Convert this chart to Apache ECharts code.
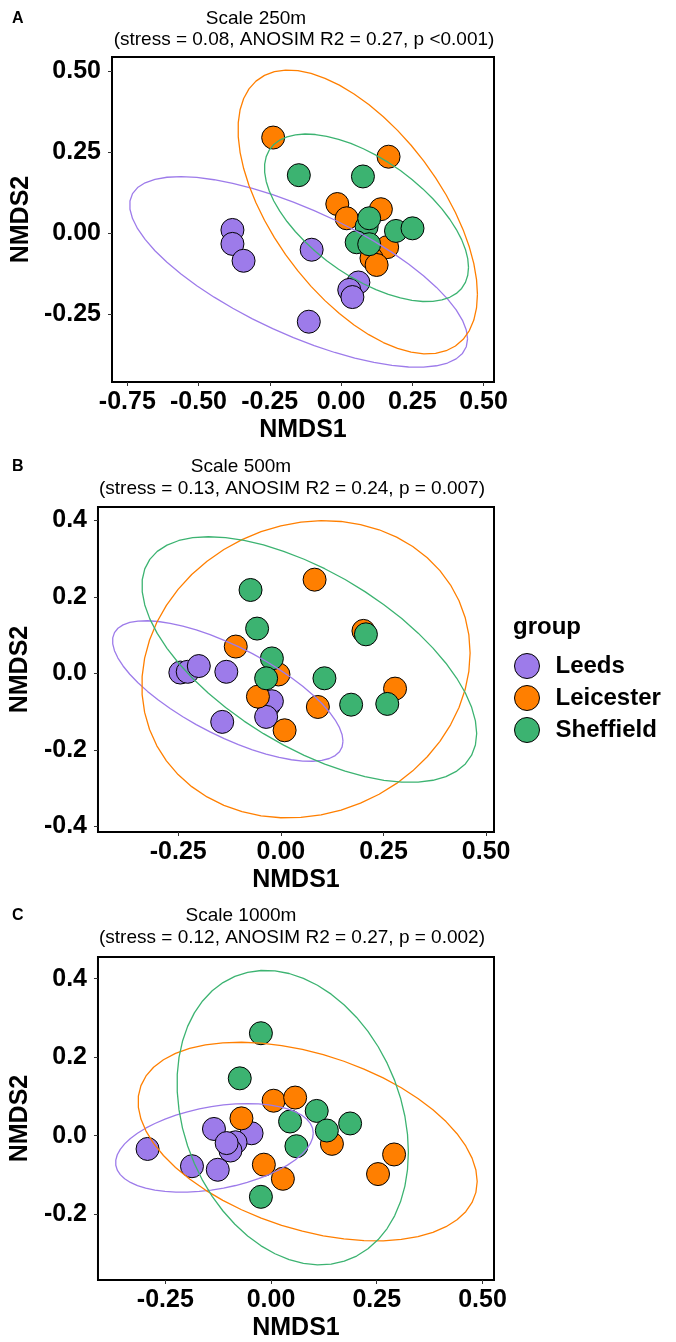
<!DOCTYPE html>
<html>
<head>
<meta charset="utf-8">
<script src="https://cdn.jsdelivr.net/npm/echarts@6/dist/echarts.min.js"></script>
<style>
html,body{margin:0;padding:0;background:#fff;}
#chart{width:676px;height:1342px;}
</style>
</head>
<body>
<div id="chart"></div>
<script>
// ---------- data ----------
const groups = ['Leeds', 'Leicester', 'Sheffield'];
const groupColors = ['#9d7bea', '#ff7f00', '#3cb371'];

const panelLetters = ['A', 'B', 'C'];
const panelTitles = ['Scale 250m', 'Scale 500m', 'Scale 1000m'];
const panelSubtitles = [
  '(stress = 0.08, ANOSIM R2 = 0.27, p <0.001)',
  '(stress = 0.13, ANOSIM R2 = 0.24, p = 0.007)',
  '(stress = 0.12, ANOSIM R2 = 0.27, p = 0.002)'
];

// Panel A (250 m)
const leeds250 = [[-0.381,0.010],[-0.381,-0.033],[-0.342,-0.085],[-0.103,-0.051],[0.061,-0.152],[0.029,-0.175],[0.040,-0.197],[-0.113,-0.273]];
const leicester250 = [[-0.238,0.295],[0.167,0.236],[-0.013,0.090],[0.140,0.074],[0.020,0.046],[0.162,-0.043],[0.107,-0.077],[0.125,-0.098]];
const sheffield250 = [[-0.148,0.179],[0.077,0.175],[0.090,0.020],[0.099,0.046],[0.055,-0.028],[0.099,-0.034],[0.193,0.007],[0.251,0.015]];

// Panel B (500 m)
const leeds500 = [[-0.245,0.002],[-0.227,0.004],[-0.200,0.019],[-0.133,0.004],[-0.030,-0.085],[-0.022,-0.073],[-0.036,-0.114],[-0.143,-0.127]];
const leicester500 = [[0.082,0.245],[0.201,0.111],[-0.110,0.070],[-0.006,-0.003],[-0.056,-0.061],[0.090,-0.088],[0.009,-0.149],[0.278,-0.040]];
const sheffield500 = [[-0.074,0.218],[-0.058,0.117],[-0.022,0.039],[-0.036,-0.013],[0.106,-0.013],[0.207,0.102],[0.171,-0.082],[0.259,-0.080]];

// Panel C (1000 m)
const leeds1000 = [[-0.292,-0.034],[-0.187,-0.078],[-0.126,-0.087],[-0.135,0.017],[-0.046,0.006],[-0.084,-0.017],[-0.096,-0.038],[-0.105,-0.019]];
const leicester1000 = [[0.006,0.089],[0.057,0.097],[-0.070,0.044],[0.144,-0.021],[-0.017,-0.074],[0.028,-0.110],[0.291,-0.048],[0.253,-0.098]];
const sheffield1000 = [[-0.024,0.261],[-0.074,0.146],[0.108,0.063],[0.045,0.036],[0.132,0.013],[0.187,0.031],[0.060,-0.027],[-0.024,-0.156]];

// axis ticks
const xTicksA = [-0.75, -0.50, -0.25, 0.00, 0.25, 0.50];
const yTicksA = [-0.25, 0.00, 0.25, 0.50];
const xTicksB = [-0.25, 0.00, 0.25, 0.50];
const yTicksB = [-0.4, -0.2, 0.0, 0.2, 0.4];
const xTicksC = [-0.25, 0.00, 0.25, 0.50];
const yTicksC = [-0.2, 0.0, 0.2, 0.4];
const xDecimals = [2, 2, 2];
const yDecimals = [2, 1, 1];

// ---------- stat_ellipse (type = "norm", level = 0.95) ----------
function covWt(pts) {
  const n = pts.length;
  const m = [0, 0];
  pts.forEach(p => { m[0] += p[0] / n; m[1] += p[1] / n; });
  let a = 0, b = 0, c = 0;
  pts.forEach(p => {
    const dx = p[0] - m[0], dy = p[1] - m[1];
    a += dx * dx; b += dx * dy; c += dy * dy;
  });
  return { center: m, cov: [[a / (n - 1), b / (n - 1)], [b / (n - 1), c / (n - 1)]] };
}
function statEllipse(pts) {
  const level = 0.95, segments = 51;
  const v = covWt(pts);
  const dfd = pts.length - 1;
  const fq = (dfd / 2) * (Math.pow(1 - level, -2 / dfd) - 1); // qf(level, 2, dfd)
  const radius = Math.sqrt(2 * fq);
  const r11 = Math.sqrt(v.cov[0][0]);
  const r12 = v.cov[0][1] / r11;
  const r22 = Math.sqrt(v.cov[1][1] - r12 * r12);
  const out = [];
  for (let i = 0; i <= segments; i++) {
    const t = i * 2 * Math.PI / segments;
    const cs = Math.cos(t), sn = Math.sin(t);
    out.push([v.center[0] + radius * cs * r11, v.center[1] + radius * (cs * r12 + sn * r22)]);
  }
  return out;
}

// ---------- layout ----------
const FONT = 'Liberation Sans, Arial, Helvetica, sans-serif';
const panels = [
  { data: [leeds250, leicester250, sheffield250], xTicks: xTicksA, yTicks: yTicksA,
    grid: { left: 112, top: 57, width: 382, height: 325 },
    xRange: [-0.8037, 0.537], yRange: [-0.459, 0.5435], yNameGap: 70 },
  { data: [leeds500, leicester500, sheffield500], xTicks: xTicksB, yTicks: yTicksB,
    grid: { left: 97, top: 507, width: 397, height: 325 },
    xRange: [-0.4456, 0.519], yRange: [-0.415, 0.435], yNameGap: 55 },
  { data: [leeds1000, leicester1000, sheffield1000], xTicks: xTicksC, yTicks: yTicksC,
    grid: { left: 97, top: 957, width: 397, height: 325 },
    xRange: [-0.4093, 0.5273], yRange: [-0.368, 0.4553], yNameGap: 55 }
];
const titleY = [[19, 40], [467, 489], [916, 938]];
const titleX = [[256, 304], [241, 292], [241, 292]];

const grids = [], xAxes = [], yAxes = [], series = [], graphics = [];
panels.forEach((p, k) => {
  grids.push(Object.assign({ show: true, borderColor: '#000', borderWidth: 2, backgroundColor: '#fff' }, p.grid));
  const axisCommon = {
    type: 'value', gridIndex: k, splitLine: { show: false },
    axisLine: { show: false, onZero: false },
    nameLocation: 'middle',
    nameTextStyle: { fontFamily: FONT, fontWeight: 'bold', fontSize: 25, color: '#000' }
  };
  xAxes.push(Object.assign({}, axisCommon, {
    min: p.xRange[0], max: p.xRange[1], name: 'NMDS1', nameGap: 36,
    axisTick: { show: true, length: 4, lineStyle: { color: '#333', width: 1 }, customValues: p.xTicks },
    axisLabel: { show: true, margin: 8, fontFamily: FONT, fontWeight: 'bold', fontSize: 25, color: '#000',
      customValues: p.xTicks, formatter: v => Number(v).toFixed(xDecimals[k]) }
  }));
  yAxes.push(Object.assign({}, axisCommon, {
    min: p.yRange[0], max: p.yRange[1], name: 'NMDS2', nameGap: p.yNameGap,
    axisTick: { show: true, length: 4, lineStyle: { color: '#333', width: 1 }, customValues: p.yTicks },
    axisLabel: { show: true, margin: 11, fontFamily: FONT, fontWeight: 'bold', fontSize: 25, color: '#000',
      customValues: p.yTicks, formatter: v => Number(v).toFixed(yDecimals[k]) }
  }));
  p.data.forEach((pts, g) => {
    series.push({
      type: 'scatter', name: groups[g], xAxisIndex: k, yAxisIndex: k, data: pts,
      symbol: 'circle', symbolSize: 23, z: 3,
      itemStyle: { color: groupColors[g], borderColor: '#000', borderWidth: 1, opacity: 1 },
      emphasis: { disabled: true }
    });
  });
  p.data.forEach((pts, g) => {
    series.push({
      type: 'line', name: groups[g] + ' ellipse', xAxisIndex: k, yAxisIndex: k,
      data: statEllipse(pts), showSymbol: false, symbol: 'none', smooth: false, z: 4,
      lineStyle: { color: groupColors[g], width: 1.3 }, silent: true
    });
  });
  graphics.push({ type: 'text', x: 12, y: titleY[k][0], style: { text: panelLetters[k], font: 'bold 16px ' + FONT, fill: '#000', verticalAlign: 'middle' } });
  graphics.push({ type: 'text', x: titleX[k][0], y: titleY[k][0], style: { text: panelTitles[k], font: '19px ' + FONT, fill: '#000', align: 'center', verticalAlign: 'middle' } });
  graphics.push({ type: 'text', x: titleX[k][1], y: titleY[k][1], style: { text: panelSubtitles[k], font: '19px ' + FONT, fill: '#000', align: 'center', verticalAlign: 'middle' } });
});
graphics.push({ type: 'text', x: 513, y: 627, style: { text: 'group', font: 'bold 24px ' + FONT, fill: '#000', verticalAlign: 'middle' } });

const chart = echarts.init(document.getElementById('chart'), null, { renderer: 'canvas' });
chart.setOption({
  animation: false,
  backgroundColor: '#fff',
  grid: grids, xAxis: xAxes, yAxis: yAxes, series: series,
  legend: {
    orient: 'vertical', left: 509, top: 648, itemGap: 6, itemWidth: 25, itemHeight: 25,
    selectedMode: false,
    data: groups.map((g, i) => ({ name: g, icon: 'circle', itemStyle: { color: groupColors[i], borderColor: '#000', borderWidth: 1 } })),
    textStyle: { fontFamily: FONT, fontWeight: 'bold', fontSize: 24, lineHeight: 25, color: '#000', padding: [0, 0, 0, 11] }
  },
  graphic: graphics
});
</script>
</body>
</html>
